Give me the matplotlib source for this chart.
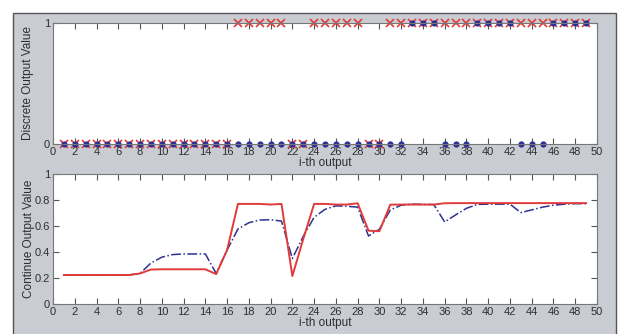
import numpy as np
import matplotlib
matplotlib.use('Agg')
import matplotlib.pyplot as plt
from matplotlib.patches import Rectangle

plt.rcParams['font.family'] = ['Liberation Sans', 'DejaVu Sans']
plt.rcParams['font.size'] = 8

# output index
idx = np.arange(1, 50)

# discrete outputs (blue = target, red = predicted)
target_discrete = [0]*32 + [1, 1, 1] + [0, 0, 0] + [1, 1, 1, 1] + [0, 0, 0] + [1, 1, 1, 1]
pred_discrete = ([0]*16 + [1]*5 + [0, 0] + [1]*5 + [0, 0] + [1]*19)

# continuous outputs
pred_cont = [0.223, 0.223, 0.223, 0.223, 0.223, 0.223, 0.223, 0.235, 0.265, 0.267,
             0.267, 0.267, 0.267, 0.267, 0.23, 0.415, 0.77, 0.77, 0.77, 0.765,
             0.77, 0.215, 0.5, 0.77, 0.77, 0.765, 0.765, 0.775, 0.564, 0.56,
             0.764, 0.765, 0.765, 0.765, 0.765, 0.775, 0.776, 0.776, 0.776, 0.776,
             0.776, 0.776, 0.776, 0.776, 0.776, 0.776, 0.776, 0.776, 0.776]
target_cont = [0.223, 0.223, 0.223, 0.223, 0.223, 0.223, 0.223, 0.235, 0.315, 0.36,
               0.38, 0.385, 0.385, 0.385, 0.235, 0.415, 0.577, 0.625, 0.646, 0.648,
               0.638, 0.35, 0.52, 0.667, 0.728, 0.755, 0.752, 0.745, 0.523, 0.575,
               0.723, 0.76, 0.768, 0.766, 0.765, 0.631, 0.685, 0.736, 0.766, 0.768,
               0.768, 0.768, 0.703, 0.724, 0.745, 0.76, 0.768, 0.772, 0.772]

xticks = np.arange(0, 51, 2)
W, H = 620, 334
bg = '#c9cdd3'
txt = '#2e2e2e'

fig = plt.figure(figsize=(W/100, H/100), dpi=100)
fig.patch.set_facecolor('white')
fig.patches.append(Rectangle((13/W, -0.1), 603/W, (H-13)/H + 0.1, transform=fig.transFigure,
                             facecolor=bg, edgecolor='#555555', lw=1, zorder=-10))


def style(ax):
    ax.set_xlim(0, 50)
    ax.set_xticks(xticks)
    ax.tick_params(direction='in', length=4, top=True, right=True, colors='#555555',
                   labelcolor=txt, labelsize=8, pad=2)
    for s in ax.spines.values():
        s.set_color('#777777')
        s.set_linewidth(0.8)
    ax.set_xlabel('i-th output', color=txt, labelpad=0, fontsize=8.5)


ax1 = fig.add_axes([53/W, (H-144)/H, 544/W, 121/H])
ax1.plot(idx, pred_discrete, 'x', color='#e03a3a', ms=5.5, mew=1.2, clip_on=False)
ax1.plot(idx, target_discrete, 'o', color='#2c2f96', ms=4.5, mew=0, clip_on=False)
ax1.set_ylim(0, 1)
ax1.set_yticks([0, 1])
style(ax1)
ax1.set_ylabel('Discrete Output Value', color=txt, labelpad=7, fontsize=8.5)

ax2 = fig.add_axes([53/W, 30/H, 544/W, 130/H])
ax2.plot(idx, target_cont, '-.', color='#2c3290', lw=1.1)
ax2.plot(idx, pred_cont, '-', color='#e03a3a', lw=1.4)
ax2.set_ylim(0, 1)
ax2.set_yticks([0, 0.2, 0.4, 0.6, 0.8, 1])
ax2.set_yticklabels(['0', '0.2', '0.4', '0.6', '0.8', '1'])
style(ax2)
ax2.set_ylabel('Continue Output Value', color=txt, labelpad=0, fontsize=8.5)

fig.savefig('out.png', dpi=100)
